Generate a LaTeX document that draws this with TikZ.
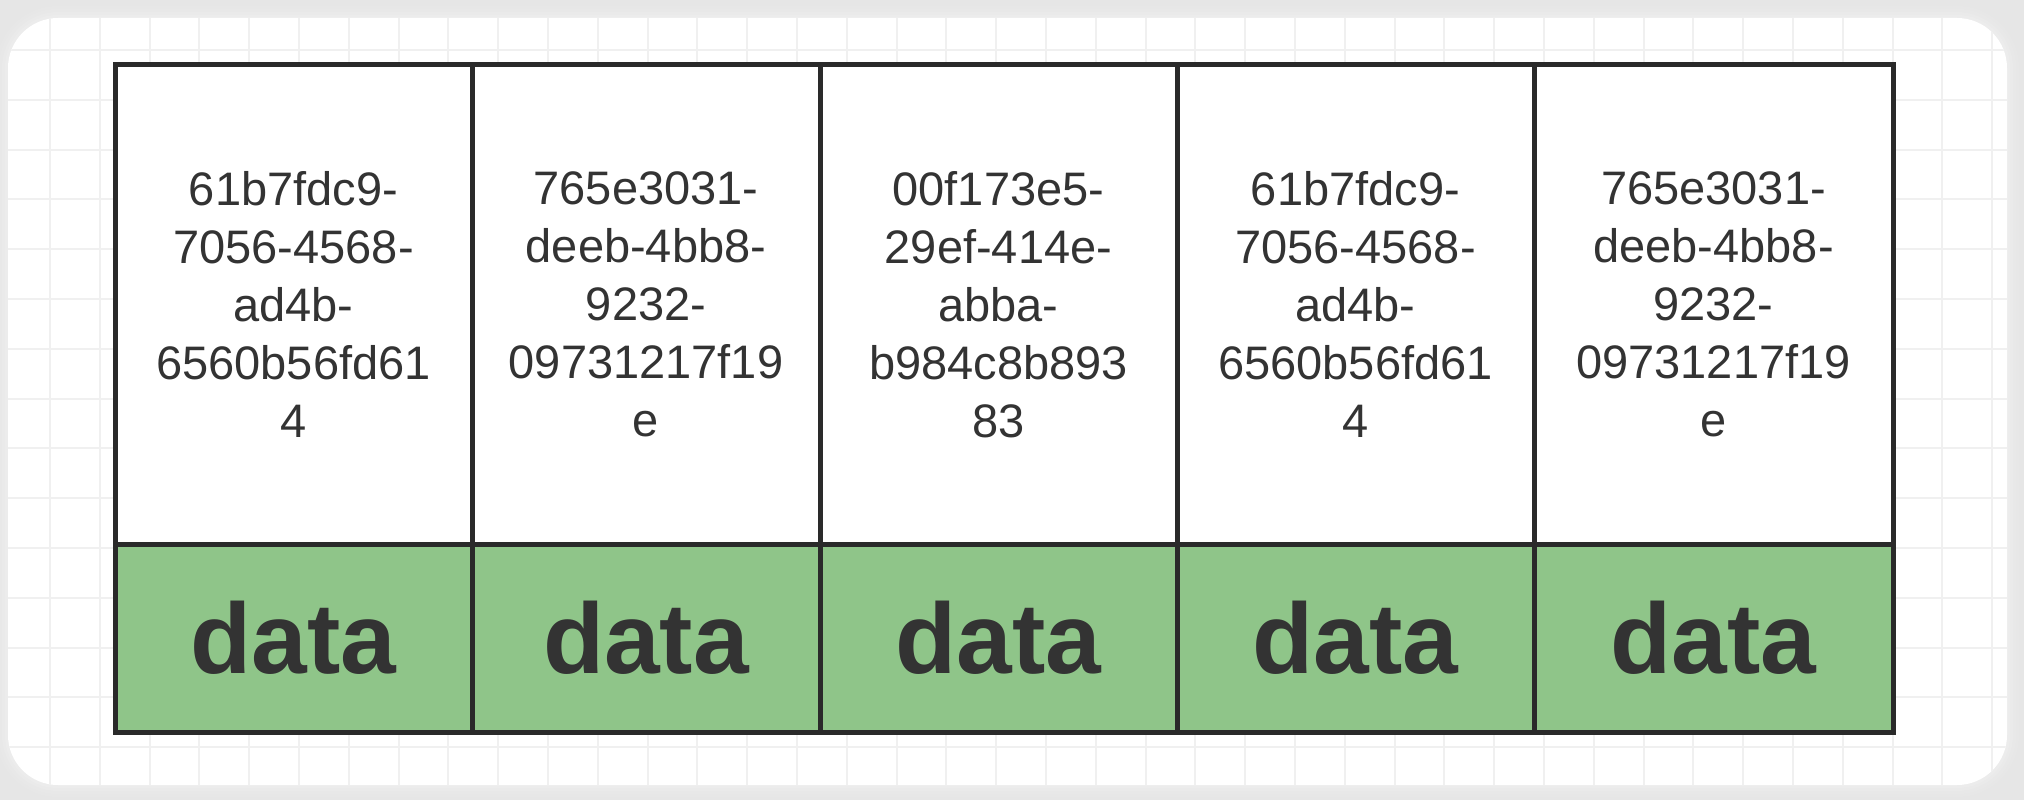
\documentclass[tikz,border=0pt]{standalone}
\usepackage{fontspec}
\setmainfont{Liberation Sans}
\definecolor{pagebg}{HTML}{E6E6E6}
\definecolor{gridline}{HTML}{F0F0F0}
\definecolor{cellline}{HTML}{2A2A2A}
\definecolor{cellgreen}{HTML}{8FC589}
\definecolor{ink}{HTML}{333333}
\tikzset{
  cell/.style={draw=cellline, line width=5pt, rectangle, inner sep=0pt, outer sep=0pt,
    text=ink, anchor=north west},
  idcell/.style={cell, fill=white, minimum height=479pt, align=center,
    font=\fontsize{47}{58}\selectfont},
  datacell/.style={cell, fill=cellgreen, minimum height=188pt,
    font=\fontsize{100}{110}\selectfont\bfseries},
}
\begin{document}
\begin{tikzpicture}[x=1pt,y=-1pt]
\useasboundingbox (0,0) rectangle (2024,800);
% page and card
\fill[pagebg] (0,0) rectangle (2024,800);
\foreach \s/\o in {12/0.05,9/0.07,6/0.09,3/0.12}{
  \fill[white, opacity=\o, rounded corners=50+\s] (8-\s,18-\s) rectangle (2007+\s,785+\s);
}
\fill[white, rounded corners=50] (8,18) rectangle (2007,785);
\begin{scope}
  \clip[rounded corners=50] (8,18) rectangle (2007,785);
  \foreach \i in {0,...,39} \draw[gridline, line width=2pt] ({50+49.8*\i},0) -- ({50+49.8*\i},800);
  \foreach \j in {0,...,15} \draw[gridline, line width=2pt] (0,{50+49.8*\j}) -- (2024,{50+49.8*\j});
\end{scope}
% key cells
\node[idcell, minimum width=357pt] (k1) at (115,65) {61b7fdc9-\\7056-4568-\\ad4b-\\6560b56fd61\\4};
\node[idcell, minimum width=348pt] (k2) at (k1.north east) {765e3031-\\deeb-4bb8-\\9232-\\09731217f19\\e};
\node[idcell, minimum width=357pt] (k3) at (k2.north east) {00f173e5-\\29ef-414e-\\abba-\\b984c8b893\\83};
\node[idcell, minimum width=357pt] (k4) at (k3.north east) {61b7fdc9-\\7056-4568-\\ad4b-\\6560b56fd61\\4};
\node[idcell, minimum width=359pt] (k5) at (k4.north east) {765e3031-\\deeb-4bb8-\\9232-\\09731217f19\\e};
% data cells
\node[datacell, minimum width=357pt] (d1) at (k1.south west) {data};
\node[datacell, minimum width=348pt] (d2) at (k2.south west) {data};
\node[datacell, minimum width=357pt] (d3) at (k3.south west) {data};
\node[datacell, minimum width=357pt] (d4) at (k4.south west) {data};
\node[datacell, minimum width=359pt] (d5) at (k5.south west) {data};
\end{tikzpicture}
\end{document}
